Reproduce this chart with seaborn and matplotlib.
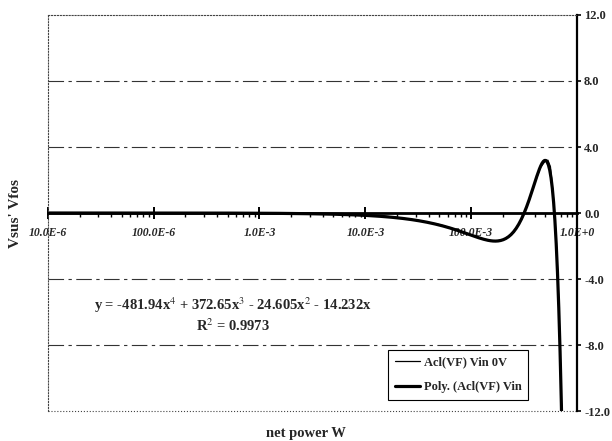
import numpy as np
import pandas as pd
import matplotlib
matplotlib.use("Agg")
import matplotlib.pyplot as plt
from matplotlib.ticker import LogLocator, NullFormatter
import seaborn as sns

power_w = [1e-5, 2e-5, 5e-5, 1e-4, 2e-4, 5e-4, 1e-3, 2e-3, 5e-3, 1e-2,
           1.5e-2, 2e-2, 3e-2, 5e-2, 7e-2, 0.1, 0.13, 0.16, 0.2, 0.25,
           0.3, 0.35, 0.4, 0.45, 0.5, 0.53, 0.56, 0.6, 0.63, 0.66, 0.69, 0.72]
vsus_vfos = [0.0, 0.0, 0.0, 0.0, 0.0, -0.01, -0.01, -0.02, -0.05, -0.10,
             -0.18, -0.27, -0.42, -0.70, -0.98, -1.33, -1.58, -1.70, -1.64, -1.20,
             -0.35, 0.70, 1.85, 2.75, 3.15, 3.20, 2.80, 0.80, -1.20, -4.00, -8.00, -13.0]

# 4th order trendline coefficients printed on the chart (x^4 .. x^0)
poly_coef = [-481.94, 372.65, -24.605, -14.232, 0.0]
trend_x = np.geomspace(1e-5, 0.73, 400)

x_ticks = [1e-5, 1e-4, 1e-3, 1e-2, 1e-1, 1.0]
x_tick_labels = ["10.0E-6", "100.0E-6", "1.0E-3", "10.0E-3", "100.0E-3", "1.0E+0"]
y_ticks = [12, 8, 4, 0, -4, -8, -12]
y_tick_labels = ["12.0", "8.0", "4.0", "0.0", "-4.0", "-8.0", "-12.0"]

data_df = pd.DataFrame({"power": power_w, "v": vsus_vfos})
trend_df = pd.DataFrame({"power": trend_x, "v": np.polyval(poly_coef, trend_x)})

sns.set_style("white")
plt.rcParams["font.family"] = ["Liberation Serif", "DejaVu Serif"]
plt.rcParams["mathtext.fontset"] = "stix"

fig = plt.figure(figsize=(6.12, 4.41), dpi=100)
ax = fig.add_axes([0.078, 0.068, 0.865, 0.898])

sns.lineplot(data=trend_df, x="power", y="v", ax=ax, color="black", lw=2.3,
             label="Poly. (Acl(VF) Vin", sort=False)
sns.lineplot(data=data_df, x="power", y="v", ax=ax, color="black", lw=0.9,
             label="Acl(VF) Vin 0V", sort=False)

ax.set_xscale("log")
ax.set_xlim(1e-5, 1.0)
ax.set_ylim(-12, 12)

# dash-dot style gridlines
for g in [8, 4, -4, -8]:
    ax.axhline(g, color="#333333", lw=0.8, dashes=(14, 4, 3, 4), zorder=0)

# frame: dotted left/top/bottom, solid right, x axis through zero
for s in ["left", "top"]:
    ax.spines[s].set_linestyle(":")
    ax.spines[s].set_linewidth(0.8)
    ax.spines[s].set_color("#444444")
ax.spines["right"].set_linewidth(1.6)
ax.spines["right"].set_color("black")
ax.spines["bottom"].set_position(("data", 0))
ax.spines["bottom"].set_linewidth(2.0)
ax.spines["bottom"].set_color("black")
ax.axhline(-12, color="#444444", lw=0.8, ls=":", clip_on=False)

ax.set_xticks(x_ticks)
ax.set_xticklabels(x_tick_labels, fontstyle="italic", fontweight="bold", fontsize=8.5)
ax.xaxis.set_minor_locator(LogLocator(base=10, subs=np.arange(2, 10)))
ax.xaxis.set_minor_formatter(NullFormatter())
ax.tick_params(axis="x", which="both", bottom=True, color="black")
ax.tick_params(axis="x", which="major", direction="inout", length=8, width=1.4, pad=6)
ax.tick_params(axis="x", which="minor", direction="out", length=3, width=1.0)

ax.yaxis.tick_right()
ax.set_yticks(y_ticks)
ax.set_yticklabels(y_tick_labels, fontweight="bold", fontsize=9)
ax.tick_params(axis="y", right=True, direction="out", length=3, width=1.2, pad=2,
               color="black")
ax.set_xlabel("")
ax.set_ylabel("")

fig.text(0.025, 0.517, "Vsus' Vfos", rotation=90, ha="center", va="center",
         fontsize=11, fontweight="bold")
fig.text(0.5, 0.002, "net power W", ha="center", va="bottom",
         fontsize=10.5, fontweight="bold")

ax.text(0.35, 0.268,
        "y = -481.94x$^{4}$ + 372.65x$^{3}$ - 24.605x$^{2}$ - 14.232x",
        transform=ax.transAxes, ha="center", va="center", fontsize=10.5, fontweight="bold")
ax.text(0.35, 0.215, "R$^{2}$ = 0.9973", transform=ax.transAxes,
        ha="center", va="center", fontsize=10.5, fontweight="bold")

handles, labels = ax.get_legend_handles_labels()
leg = ax.legend(handles[::-1], labels[::-1], loc="lower left",
                bbox_to_anchor=(0.631, 0.012), frameon=True, fancybox=False,
                edgecolor="black", framealpha=1, handlelength=2.0,
                handletextpad=0.3, labelspacing=1.0, borderpad=0.55,
                prop={"weight": "bold", "size": 9})
leg.get_frame().set_linewidth(0.8)

fig.savefig("out.png", dpi=100)
